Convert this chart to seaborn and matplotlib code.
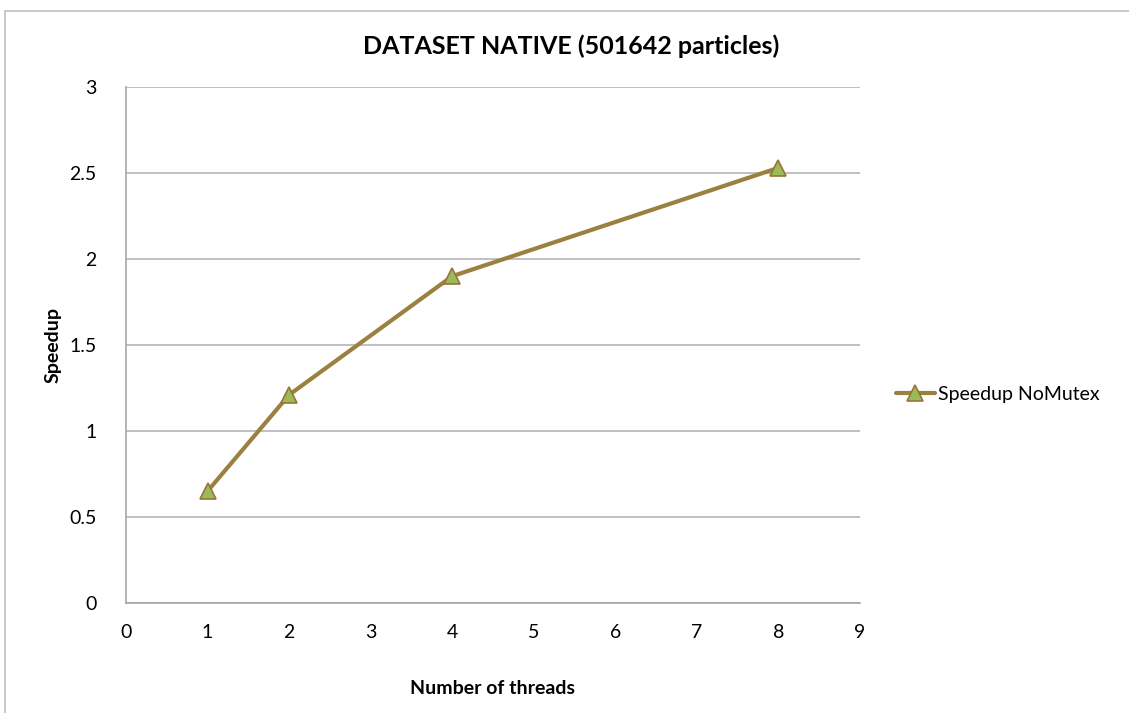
import matplotlib
matplotlib.use("Agg")
import matplotlib.pyplot as plt
import seaborn as sns
import pandas as pd

threads = [1, 2, 4, 8]
speedup = [0.65, 1.21, 1.90, 2.53]
series_name = "Speedup NoMutex"
title = "DATASET NATIVE (501642 particles)"
x_ticks = list(range(0, 10))
y_ticks = [0, 0.5, 1, 1.5, 2, 2.5, 3]
y_tick_labels = ["0", "0.5", "1", "1.5", "2", "2.5", "3"]

sns.set_theme(style="white")
plt.rcParams["font.family"] = ["Lato", "DejaVu Sans"]
plt.rcParams["text.color"] = "black"
plt.rcParams["axes.labelcolor"] = "black"

df = pd.DataFrame({"threads": threads, "speedup": speedup, "series": series_name})

fig = plt.figure(figsize=(11.29, 7.13), dpi=100)
ax = fig.add_axes([0.1116, 0.1543, 0.6501, 0.7237])

line_color = "#9C8040"
sns.lineplot(data=df, x="threads", y="speedup", hue="series", palette=[line_color],
             marker="^", markersize=11, markerfacecolor="#9BBB59",
             markeredgecolor="#98743A", markeredgewidth=1.2, linewidth=3,
             ax=ax, legend=True)

ax.set_xlim(0, 9)
ax.set_ylim(0, 3)
ax.set_xticks(x_ticks)
ax.set_xticklabels([str(v) for v in x_ticks], fontsize=14)
ax.set_yticks(y_ticks)
ax.set_yticklabels(y_tick_labels, fontsize=14)
ax.yaxis.grid(True, color="#B5B5B5", linewidth=1.2)
ax.xaxis.grid(False)
for s in ["top", "right"]:
    ax.spines[s].set_visible(False)
for s in ["left", "bottom"]:
    ax.spines[s].set_color("#A6A6A6")
    ax.spines[s].set_linewidth(1.2)
ax.tick_params(axis="both", which="both", direction="out", length=7, width=1.2,
               color="#A6A6A6", pad=8, labelcolor="black")
ax.tick_params(axis="y", pad=14)

ax.set_xlabel("Number of threads", fontsize=14, fontweight="bold", labelpad=28, color="black")
ax.set_ylabel("Speedup", fontsize=14, fontweight="bold", labelpad=6, color="black")
fig.text(0.506, 0.935, title, fontsize=18, fontweight="bold", ha="center", va="center",
         color="black")

leg = ax.legend(loc="center left", bbox_to_anchor=(1.025, 0.405), frameon=False,
                fontsize=14, handlelength=2.0, handletextpad=0.15)
for t in leg.get_texts():
    t.set_color("black")

# Thin frame around the chart area
fig.patches.append(plt.Rectangle((0.004, -0.02), 1.1, 1.005, transform=fig.transFigure,
                                 fill=False, edgecolor="#BFBFBF", linewidth=1.2))

fig.savefig("out.png", dpi=100)
